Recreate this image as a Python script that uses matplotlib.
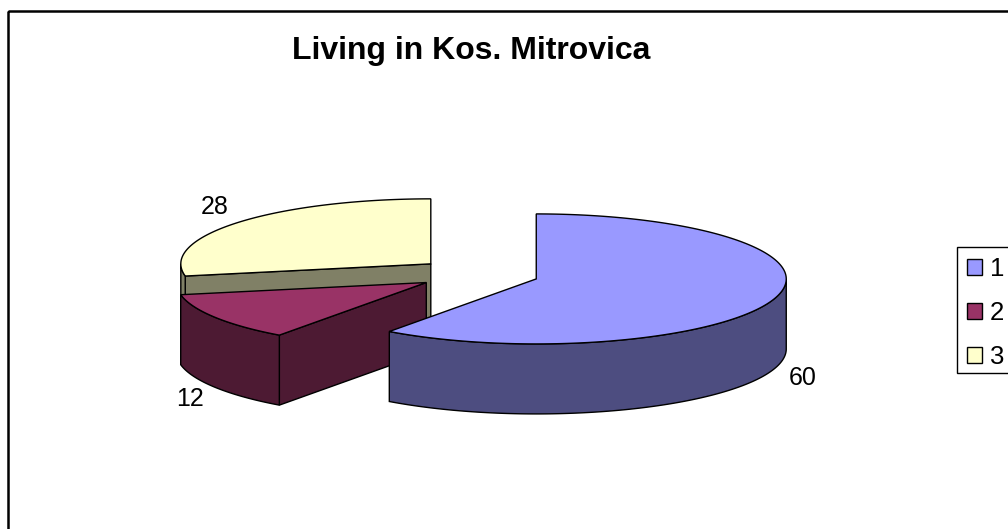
import numpy as np
import matplotlib
matplotlib.use("Agg")
import matplotlib.pyplot as plt
from matplotlib.patches import Polygon, Rectangle, Patch

# ---- data ----
categories = ["1", "2", "3"]
values = [60, 12, 28]
top_colors = ["#9999FF", "#993366", "#FFFFCC"]
side_colors = ["#4D4D80", "#4D1A33", "#808066"]
title = "Living in Kos. Mitrovica"

plt.rcParams["font.family"] = ["Liberation Sans", "DejaVu Sans"]

W, H = 1008, 529
fig = plt.figure(figsize=(W / 100, H / 100), dpi=100)
ax = fig.add_axes([0, 0, 1, 1])
ax.set_xlim(0, W)
ax.set_ylim(H, 0)
ax.axis("off")

# chart border
ax.add_patch(Rectangle((8, 11), 1030, 560, fill=False, ec="black", lw=1.8, zorder=0))

# ---- 3D pie geometry ----
cx, cy = 478.0, 274.0
rx, ry = 250.0, 65.0
depth = 70.0
explode = 0.245

total = float(sum(values))
angles = np.cumsum([0.0] + [v / total * 360.0 for v in values])


def pt(theta, ox, oy, dz=0.0):
    t = np.radians(theta)
    return (ox + rx * np.sin(t), oy - ry * np.cos(t) + dz)


def arc(t1, t2, ox, oy, dz=0.0):
    n = max(int(abs(t2 - t1) * 2), 2)
    ts = np.linspace(t1, t2, n)
    return [pt(t, ox, oy, dz) for t in ts]


slice_info = []
for i in range(len(values)):
    t1, t2 = angles[i], angles[i + 1]
    m = np.radians((t1 + t2) / 2)
    ox = cx + explode * rx * np.sin(m)
    oy = cy - explode * ry * np.cos(m)
    slice_info.append((t1, t2, ox, oy, m))

# draw order: back slices first
order = [2, 1, 0]
zc = 1
for i in order:
    t1, t2, ox, oy, m = slice_info[i]
    faces = []
    # radial face at t1: visible when it faces the viewer
    if np.sin(np.radians(t1)) < -1e-6:
        p = pt(t1, ox, oy)
        faces.append([(ox, oy), p, (p[0], p[1] + depth), (ox, oy + depth)])
    # radial face at t2
    if np.sin(np.radians(t2)) > 1e-6 and t2 < 360 - 1e-6:
        p = pt(t2, ox, oy)
        faces.append([(ox, oy), p, (p[0], p[1] + depth), (ox, oy + depth)])
    # outer curved side: visible for 90..270 degrees
    a1, a2 = max(t1, 90.0), min(t2, 270.0)
    if a2 > a1:
        faces.append(arc(a1, a2, ox, oy) + arc(a2, a1, ox, oy, depth))
    for f in faces:
        ax.add_patch(Polygon(f, closed=True, fc=side_colors[i], ec="black", lw=1.0, zorder=zc))
        zc += 1
    topface = [(ox, oy)] + arc(t1, t2, ox, oy)
    ax.add_patch(Polygon(topface, closed=True, fc=top_colors[i], ec="black", lw=1.0, zorder=zc))
    zc += 1

# data labels
for i in range(len(values)):
    t1, t2, ox, oy, m = slice_info[i]
    lx = ox + 1.12 * rx * np.sin(m)
    ly = oy - 1.12 * ry * np.cos(m)
    ly += (depth + 7) if np.cos(m) < 0 else -10
    ax.text(lx, ly, f"{values[i]}", ha="center", va="center", fontsize=18, color="black", zorder=50)

# title
ax.text(471, 51, title, ha="center", va="center", fontsize=23, fontweight="bold", zorder=50)

# legend
ax.add_patch(Rectangle((957, 247), 80, 126, fill=True, fc="white", ec="black", lw=1.0, zorder=60))
handles = [Patch(fc=top_colors[i], ec="black", lw=1.0) for i in range(len(values))]
leg = ax.legend(handles, categories, loc="upper left",
                bbox_to_anchor=(967 / W, 1 - 257 / H), bbox_transform=fig.transFigure,
                frameon=False, fontsize=18.5, handlelength=0.58, handleheight=0.58,
                handletextpad=0.3, labelspacing=0.78, borderpad=0, borderaxespad=0)
leg.set_zorder(70)

fig.savefig("out.png", dpi=100)
